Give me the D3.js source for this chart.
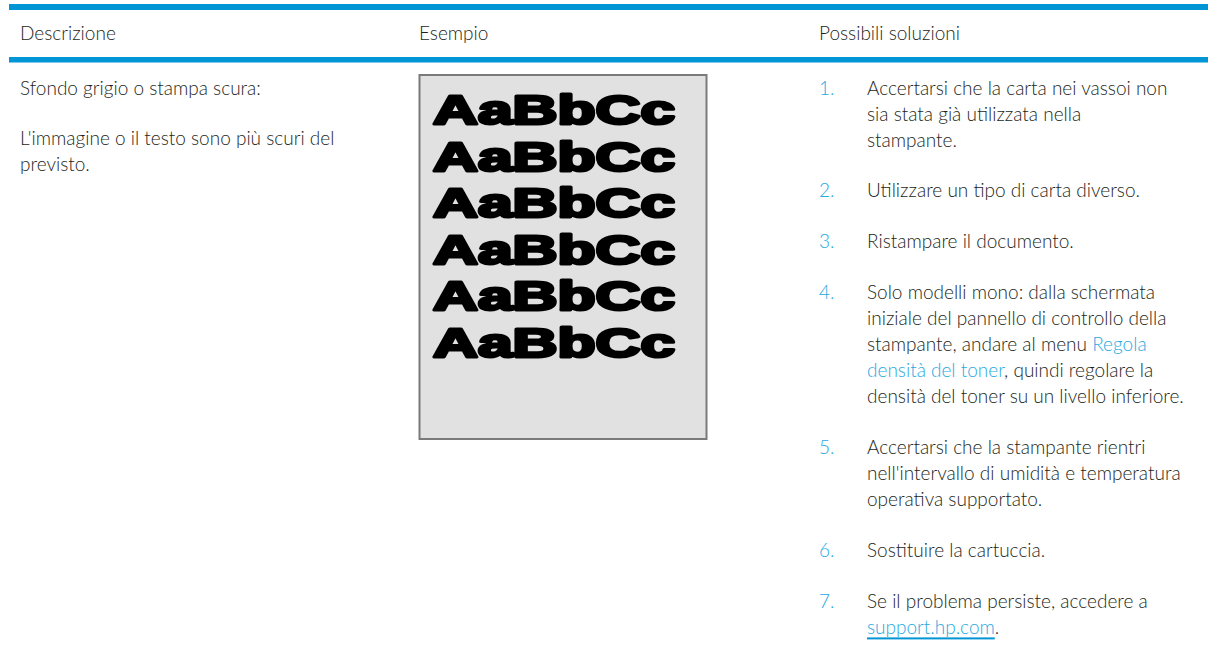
<!DOCTYPE html>
<html>
<head>
<meta charset="utf-8">
<script src="https://cdn.jsdelivr.net/npm/d3@7"></script>
<style>
  html, body { margin: 0; padding: 0; background: #fff; }
  svg { display: block; }
</style>
</head>
<body>
<svg id="chart" width="1215" height="653"></svg>
<script>
// ---- content ----
const headers = ["Descrizione", "Esempio", "Possibili soluzioni"];
const descTitle = "Sfondo grigio o stampa scura:";
const descLines = ["L'immagine o il testo sono più scuri del", "previsto."];
const sampleWord = "AaBbCc";
const sampleRows = [1, 2, 3, 4, 5, 6];
const stepNumbers = ["1.", "2.", "3.", "4.", "5.", "6.", "7."];
// each step: lines; each line: segments [text, kind]  kind: "t" text, "l" link, "u" underlined link
const steps = [
  [[["Accertarsi che la carta nei vassoi non", "t"]], [["sia stata già utilizzata nella", "t"]], [["stampante.", "t"]]],
  [[["Utilizzare un tipo di carta diverso.", "t"]]],
  [[["Ristampare il documento.", "t"]]],
  [[["Solo modelli mono: dalla schermata", "t"]],
   [["iniziale del pannello di controllo della", "t"]],
   [["stampante, andare al menu ", "t"], ["Regola", "l"]],
   [["densità del toner", "l"], [", quindi regolare la", "t"]],
   [["densità del toner su un livello inferiore.", "t"]]],
  [[["Accertarsi che la stampante rientri", "t"]], [["nell'intervallo di umidità e temperatura", "t"]], [["operativa supportato.", "t"]]],
  [[["Sostituire la cartuccia.", "t"]]],
  [[["Se il problema persiste, accedere a", "t"]], [["support.hp.com", "u"], [".", "t"]]]
];

// ---- layout ----
const svg = d3.select("#chart");
const FONT = "Lato, 'Open Sans', sans-serif";
const textColor = "#231f20";
const blue = "#0096d6";
const linkBlue = "#29a9e1";
const fs = 19;
const lineH = 26;      // distance between wrapped lines
const paraGap = 50.9;  // distance from last line of a paragraph to the next paragraph
const firstY = 94.5;

const colX = d3.scaleOrdinal().domain(headers).range([20, 419, 819]);

// rules
const rules = [{y: 4, h: 6}, {y: 57, h: 5.5}];
svg.selectAll("rect.rule").data(rules).join("rect")
  .attr("class", "rule")
  .attr("x", 9).attr("width", 1199)
  .attr("y", d => d.y).attr("height", d => d.h)
  .attr("fill", blue);

const txt = svg.append("g").attr("font-family", FONT).attr("font-size", fs)
  .attr("font-weight", 300).attr("fill", textColor);

txt.selectAll("text.hdr").data(headers).join("text")
  .attr("class", "hdr")
  .attr("x", d => colX(d)).attr("y", 40)
  .text(d => d);

// description
txt.append("text").attr("x", colX(headers[0])).attr("y", firstY).text(descTitle);
txt.selectAll("text.desc").data(descLines).join("text")
  .attr("class", "desc")
  .attr("x", colX(headers[0]))
  .attr("y", (d, i) => firstY + paraGap + i * lineH)
  .text(d => d);

// sample image
const bx = 419.5, by = 75, bw = 287, bh = 364;
svg.append("rect").attr("x", bx).attr("y", by).attr("width", bw).attr("height", bh)
  .attr("fill", "#e1e1e1").attr("stroke", "#7a7a7a").attr("stroke-width", 2);
const rowY = d3.scaleLinear().domain([1, 6]).range([124, 357]);
svg.append("g").selectAll("text").data(sampleRows).join("text")
  .attr("x", 433).attr("y", d => rowY(d))
  .attr("font-family", "'Liberation Sans', Arial, sans-serif")
  .attr("font-weight", 700).attr("font-size", 41.5)
  .attr("fill", "#000").attr("stroke", "#000").attr("stroke-width", 3)
  .attr("stroke-linejoin", "round")
  .attr("textLength", 242).attr("lengthAdjust", "spacingAndGlyphs")
  .text(sampleWord);

// steps
const numX = colX(headers[2]), bodyX = 867;
let y = firstY;
steps.forEach((lines, si) => {
  const g = txt.append("g");
  g.append("text").attr("x", numX).attr("y", y).attr("fill", linkBlue).text(stepNumbers[si]);
  lines.forEach((segs, li) => {
    const t = g.append("text").attr("x", bodyX).attr("y", y + li * lineH);
    t.selectAll("tspan").data(segs).join("tspan")
      .attr("fill", d => d[1] === "t" ? textColor : linkBlue)
      .text(d => d[0]);
    segs.forEach((s, k) => {
      if (s[1] === "u") {
        const node = t.selectAll("tspan").nodes()[k];
        const x0 = node.getStartPositionOfChar(0).x;
        const x1 = x0 + node.getComputedTextLength();
        g.append("rect").attr("x", x0).attr("width", x1 - x0)
          .attr("y", y + li * lineH + 3.5).attr("height", 2).attr("fill", blue);
      }
    });
  });
  y += (lines.length - 1) * lineH + paraGap;
});
</script>
</body>
</html>
